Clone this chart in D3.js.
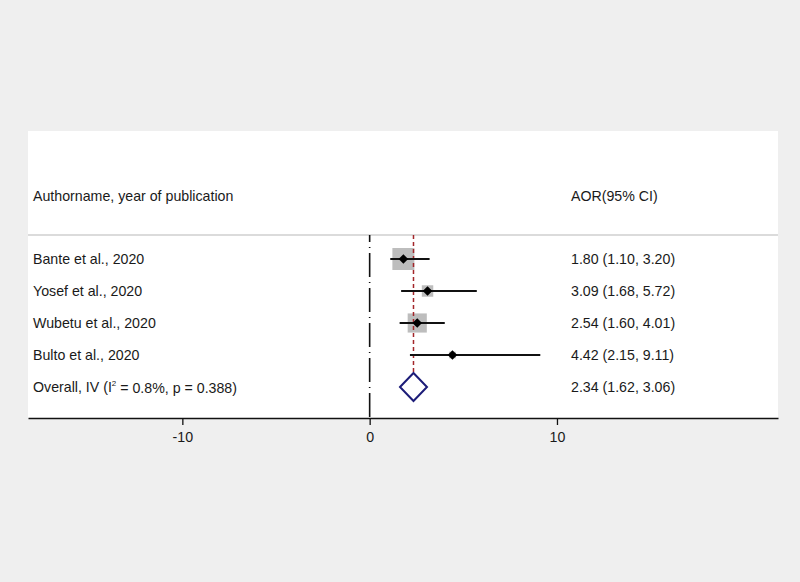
<!DOCTYPE html>
<html>
<head>
<meta charset="utf-8">
<script src="https://cdn.jsdelivr.net/npm/d3@7"></script>
<style>
  body { margin: 0; background: #efefef; }
  svg { display: block; }
  text { font-family: "Liberation Sans", Arial, sans-serif; font-size: 14.2px; fill: #1a1a1a; }
</style>
</head>
<body>
<script>
// study data
var studies = ["Bante et al., 2020", "Yosef et al., 2020", "Wubetu et al., 2020", "Bulto et al., 2020"];
var aor = [1.80, 3.09, 2.54, 4.42];
var lower = [1.10, 1.68, 1.60, 2.15];
var upper = [3.20, 5.72, 4.01, 9.11];
var weights = [47.2, 12.8, 35.8, 4.3];
var overall = { est: 2.34, lo: 1.62, hi: 3.06 };
var xTicks = [-10, 0, 10];

var width = 800, height = 582;

var svg = d3.select("body").append("svg")
    .attr("width", width)
    .attr("height", height);

// white plot panel
svg.append("rect")
    .attr("x", 28).attr("y", 131)
    .attr("width", 750).attr("height", 287)
    .attr("fill", "#fff");

var x = d3.scaleLinear().domain([-18.24, 21.8]).range([28, 778]);
var y = d3.scaleLinear().domain([0, 1]).range([259, 291]);

var fmt = d3.format(".2f");

// header
svg.append("text").attr("x", 33).attr("y", 196).attr("dy", ".35em")
    .text("Authorname, year of publication");
svg.append("text").attr("x", 571).attr("y", 196).attr("dy", ".35em")
    .text("AOR(95% CI)");

svg.append("line")
    .attr("x1", 28).attr("x2", 778)
    .attr("y1", 235).attr("y2", 235)
    .attr("stroke", "#cfcfcf").attr("stroke-width", 1.5);

// null line
svg.append("line")
    .attr("x1", x(0)).attr("x2", x(0))
    .attr("y1", 235).attr("y2", 418)
    .attr("stroke", "#111").attr("stroke-width", 1.6)
    .attr("stroke-dasharray", "24,5,1,5")
    .attr("stroke-dashoffset", 17);

// weight boxes
svg.selectAll(".box")
    .data(studies)
    .enter().append("rect")
    .attr("class", "box")
    .attr("x", function (d, i) { return x(aor[i]) - 1.6 * Math.sqrt(weights[i]); })
    .attr("y", function (d, i) { return y(i) - 1.6 * Math.sqrt(weights[i]); })
    .attr("width", function (d, i) { return 3.2 * Math.sqrt(weights[i]); })
    .attr("height", function (d, i) { return 3.2 * Math.sqrt(weights[i]); })
    .attr("fill", "#bdbdbd");

// overall effect line
svg.append("line")
    .attr("x1", x(overall.est)).attr("x2", x(overall.est))
    .attr("y1", 235).attr("y2", 402)
    .attr("stroke", "#a3262a").attr("stroke-width", 1.5)
    .attr("stroke-dasharray", "4,3");

// CIs
svg.selectAll(".ci")
    .data(studies)
    .enter().append("line")
    .attr("class", "ci")
    .attr("x1", function (d, i) { return x(lower[i]); })
    .attr("x2", function (d, i) { return x(upper[i]); })
    .attr("y1", function (d, i) { return y(i); })
    .attr("y2", function (d, i) { return y(i); })
    .attr("stroke", "#111").attr("stroke-width", 2);

// point estimates
svg.selectAll(".pt")
    .data(studies)
    .enter().append("path")
    .attr("class", "pt")
    .attr("d", "M-4.8,0L0,-4.8L4.8,0L0,4.8Z")
    .attr("transform", function (d, i) { return "translate(" + x(aor[i]) + "," + y(i) + ")"; })
    .attr("fill", "#000");

// pooled diamond
var yo = y(4);
svg.append("path")
    .attr("d", "M" + x(overall.lo) + "," + yo +
        "L" + x(overall.est) + "," + (yo - 14) +
        "L" + x(overall.hi) + "," + yo +
        "L" + x(overall.est) + "," + (yo + 14) + "Z")
    .attr("fill", "#fff")
    .attr("stroke", "#1c1c78").attr("stroke-width", 2);

// study labels
svg.selectAll(".lab")
    .data(studies)
    .enter().append("text")
    .attr("class", "lab")
    .attr("x", 33)
    .attr("y", function (d, i) { return y(i); })
    .attr("dy", ".35em")
    .text(function (d) { return d; });

var ov = svg.append("text").attr("x", 33).attr("y", yo).attr("dy", ".35em");
ov.append("tspan").text("Overall, IV (I");
ov.append("tspan").attr("font-size", "8px").attr("dy", "-0.7em").text("2");
ov.append("tspan").attr("dy", "0.5em").text(" = 0.8%, p = 0.388)");

// estimates column
svg.selectAll(".est")
    .data(studies)
    .enter().append("text")
    .attr("class", "est")
    .attr("x", 571)
    .attr("y", function (d, i) { return y(i); })
    .attr("dy", ".35em")
    .text(function (d, i) { return fmt(aor[i]) + " (" + fmt(lower[i]) + ", " + fmt(upper[i]) + ")"; });

svg.append("text").attr("x", 571).attr("y", yo).attr("dy", ".35em")
    .text(fmt(overall.est) + " (" + fmt(overall.lo) + ", " + fmt(overall.hi) + ")");

// x axis
var axis = svg.append("g")
    .attr("transform", "translate(0,418)")
    .call(d3.axisBottom(x).tickValues(xTicks).tickFormat(function (d) { return String(d); })
        .tickSize(7).tickPadding(7).tickSizeOuter(0));
axis.select(".domain").attr("stroke", "#111").attr("stroke-width", 1.5);
axis.selectAll(".tick line").attr("stroke", "#111").attr("stroke-width", 1.3);
axis.selectAll(".tick text")
    .style("font-family", "'Liberation Sans', Arial, sans-serif")
    .style("font-size", "14.2px")
    .attr("fill", "#1a1a1a");
</script>
</body>
</html>
